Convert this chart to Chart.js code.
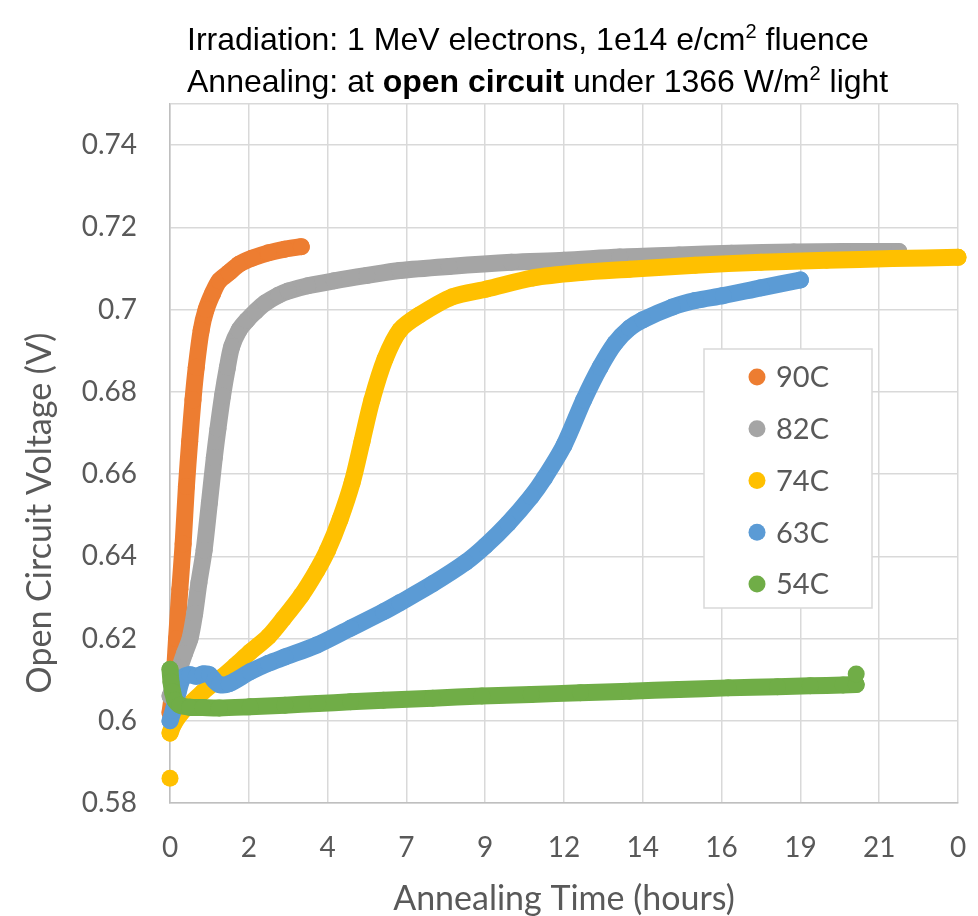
<!DOCTYPE html>
<html>
<head>
<meta charset="utf-8">
<script src="https://cdn.jsdelivr.net/npm/chart.js@4.4.1/dist/chart.umd.min.js"></script>
<style>
  html, body { margin: 0; padding: 0; background: #ffffff; }
  #wrap { width: 978px; height: 916px; position: relative; }
</style>
</head>
<body>
<div id="wrap"><canvas id="c" width="978" height="916"></canvas></div>
<script>
// Annealing runs at five temperatures: time in hours, Voc in volts.
// A null value breaks the trace so a stray reading stands alone as a dot.
const seriesLabels = ['90C', '82C', '74C', '63C', '54C'];
const seriesColors = ['#ED7D31', '#A5A5A5', '#FFC000', '#5B9BD5', '#70AD47'];

const t90 = [0, 0.05, 0.12, 0.2, 0.3, 0.4, 0.5, 0.6, 0.7, 0.8, 0.95, 1.1, 1.3, 1.5, 1.8, 2.1, 2.5, 3.0, 3.5, 4.0];
const v90 = [0.602, 0.605, 0.61, 0.62, 0.632, 0.643, 0.657, 0.668, 0.678, 0.686, 0.695, 0.700, 0.704, 0.707, 0.709, 0.711, 0.7125, 0.7138, 0.7147, 0.7153];

const t82 = [0, 0.15, 0.3, 0.45, 0.61, 0.75, 0.88, 1.04, 1.2, 1.35, 1.46, 1.6, 1.75, 1.88, 2.1, 2.34, 2.6, 2.9, 3.3, 3.6, 4.2, 5.0, 6.0, 7.0, 8.5, 10.4, 12.0, 13.7, 15.5, 17.1, 19.0, 20.5, 22.2];
const v82 = [0.606, 0.609, 0.613, 0.6165, 0.620, 0.626, 0.6335, 0.6415, 0.653, 0.664, 0.671, 0.679, 0.686, 0.691, 0.695, 0.6974, 0.6995, 0.7016, 0.7035, 0.7045, 0.7058, 0.707, 0.7083, 0.7095, 0.7105, 0.7115, 0.712, 0.7128, 0.7133, 0.7137, 0.714, 0.7141, 0.7141];

const t74 = [0, 0, 0, 0.1, 0.3, 0.6, 1.0, 1.3, 1.58, 2.0, 2.44, 3.0, 3.45, 4.0, 4.47, 4.8, 5.18, 5.55, 5.85, 6.15, 6.55, 7.0, 7.6, 8.6, 9.65, 11.06, 12.5, 14.0, 16.0, 18.0, 20.0, 22.0, 24.0];
const v74 = [0.586, null, 0.597, 0.599, 0.6015, 0.604, 0.607, 0.609, 0.6106, 0.6135, 0.6167, 0.6205, 0.6248, 0.6305, 0.6365, 0.6415, 0.649, 0.658, 0.668, 0.678, 0.688, 0.695, 0.6987, 0.7031, 0.705, 0.7077, 0.709, 0.7098, 0.7108, 0.7115, 0.712, 0.7124, 0.7127];

const t63 = [0, 0.1, 0.25, 0.4, 0.6, 0.8, 1.0, 1.2, 1.35, 1.5, 1.8, 2.44, 3.0, 3.5, 4.47, 5.5, 6.5, 7.0, 8.0, 9.0, 9.6, 10.3, 11.0, 11.4, 12.0, 12.6, 13.1, 13.55, 14.0, 14.4, 15.3, 16.0, 16.85, 18.0, 19.2];
const v63 = [0.600, 0.6025, 0.607, 0.6105, 0.6112, 0.6108, 0.6114, 0.6112, 0.6098, 0.6088, 0.609, 0.6119, 0.614, 0.6155, 0.6184, 0.6225, 0.6265, 0.6287, 0.6333, 0.6385, 0.6425, 0.648, 0.6545, 0.659, 0.667, 0.678, 0.686, 0.6918, 0.6955, 0.6975, 0.7006, 0.7022, 0.7034, 0.7053, 0.7072];

const t54 = [0, 0.03, 0.08, 0.15, 0.3, 0.6, 1.0, 1.5, 2.44, 3.5, 4.5, 5.5, 6.5, 8.0, 9.5, 11.0, 12.5, 14.0, 15.5, 17.0, 18.5, 19.5, 20.5, 20.9, 20.9, 20.9];
const v54 = [0.6125, 0.6095, 0.607, 0.605, 0.6038, 0.6033, 0.6032, 0.6031, 0.6034, 0.6038, 0.6042, 0.6046, 0.605, 0.6055, 0.606, 0.6064, 0.6068, 0.6072, 0.6076, 0.608, 0.6083, 0.6085, 0.6087, 0.6088, null, 0.6114];

const xTickValues = [0, 2.4, 4.8, 7.2, 9.6, 12, 14.4, 16.8, 19.2, 21.6, 24];
const xTickLabels = ['0', '2', '4', '7', '9', '12', '14', '16', '19', '21', '0'];
const yTickValues = [0.58, 0.60, 0.62, 0.64, 0.66, 0.68, 0.70, 0.72, 0.74];
const yTickLabels = ['0.58', '0.6', '0.62', '0.64', '0.66', '0.68', '0.7', '0.72', '0.74'];
const yTop = 0.75;

const seriesT = [t90, t82, t74, t63, t54];
const seriesV = [v90, v82, v74, v63, v54];

const AXIS_GREY = '#595959';
const GRID = '#D9D9D9';
const UI_FONT = 'Lato, "Open Sans", sans-serif';

const datasets = seriesLabels.map((label, i) => ({
  label,
  data: seriesT[i].map((t, k) => ({ x: t, y: seriesV[i][k] })),
  showLine: true,
  spanGaps: false,
  borderColor: seriesColors[i],
  backgroundColor: seriesColors[i],
  borderWidth: 17,
  borderCapStyle: 'round',
  borderJoinStyle: 'round',
  tension: 0.3,
  pointRadius: 8.5,
  pointBorderWidth: 0,
  pointHoverRadius: 8.5,
  clip: false,
  // later temperatures sit on top of earlier ones
  order: seriesLabels.length - i
}));

// Two-line heading with bold and superscript runs
const headingPlugin = {
  id: 'heading',
  afterDraw(chart) {
    const ctx = chart.ctx;
    const size = 32;
    const face = '"Liberation Sans", Arial, sans-serif';
    const lines = [
      [['Irradiation: 1 MeV electrons, 1e14 e/cm', 'n'], ['2', 's'], [' fluence', 'n']],
      [['Annealing: at ', 'n'], ['open circuit', 'b'], [' under 1366 W/m', 'n'], ['2', 's'], [' light', 'n']]
    ];
    const baselines = [50, 92];
    ctx.save();
    ctx.fillStyle = '#000000';
    ctx.textBaseline = 'alphabetic';
    ctx.textAlign = 'left';
    lines.forEach((runs, li) => {
      let x = 187;
      runs.forEach(([txt, kind]) => {
        let y = baselines[li];
        if (kind === 'b') ctx.font = `bold ${size}px ${face}`;
        else if (kind === 's') { ctx.font = `${Math.round(size * 0.62)}px ${face}`; y -= size * 0.36; }
        else ctx.font = `${size}px ${face}`;
        ctx.fillText(txt, x, y);
        x += ctx.measureText(txt).width;
      });
    });
    ctx.restore();
  }
};

// Vertical axis title, centred where the original layout puts it
const yTitlePlugin = {
  id: 'yTitle',
  afterDraw(chart) {
    const ctx = chart.ctx;
    ctx.save();
    ctx.translate(40, 513);
    ctx.rotate(-Math.PI / 2);
    ctx.font = `34px ${UI_FONT}`;
    ctx.fillStyle = AXIS_GREY;
    ctx.textAlign = 'center';
    ctx.textBaseline = 'middle';
    ctx.fillText('Open Circuit Voltage (V)', 0, 0);
    ctx.restore();
  }
};

// Boxed legend inside the plot area
const boxLegendPlugin = {
  id: 'boxLegend',
  afterDatasetsDraw(chart) {
    const ctx = chart.ctx;
    const box = { x: 704, y: 349, w: 168, h: 259 };
    ctx.save();
    ctx.fillStyle = '#ffffff';
    ctx.fillRect(box.x, box.y, box.w, box.h);
    ctx.strokeStyle = GRID;
    ctx.lineWidth = 1.5;
    ctx.strokeRect(box.x, box.y, box.w, box.h);
    ctx.font = `29px ${UI_FONT}`;
    ctx.textBaseline = 'middle';
    ctx.textAlign = 'left';
    chart.data.datasets.forEach((ds, i) => {
      const cy = 377 + i * 51.75;
      ctx.beginPath();
      ctx.fillStyle = ds.backgroundColor;
      ctx.arc(757, cy, 8.5, 0, Math.PI * 2);
      ctx.fill();
      ctx.fillStyle = AXIS_GREY;
      ctx.fillText(ds.label, 776, cy + 1);
    });
    ctx.restore();
  }
};

new Chart(document.getElementById('c'), {
  type: 'scatter',
  data: { datasets },
  options: {
    responsive: false,
    animation: false,
    devicePixelRatio: 1,
    layout: { padding: { left: 0, top: 104, right: 20, bottom: 0 } },
    plugins: {
      legend: { display: false },
      tooltip: { enabled: false },
      title: { display: false }
    },
    scales: {
      x: {
        type: 'linear',
        min: 0,
        max: 24,
        afterBuildTicks: (s) => { s.ticks = xTickValues.map(v => ({ value: v })); },
        afterFit: (s) => { s.height = 113; s.paddingLeft = 0; s.paddingRight = 0; },
        ticks: {
          autoSkip: false,
          maxRotation: 0,
          padding: 28,
          color: AXIS_GREY,
          font: { family: UI_FONT, size: 28 },
          callback: (v, i) => xTickLabels[i]
        },
        grid: { color: GRID, lineWidth: 1.5, drawTicks: false },
        border: { display: true, color: '#BFBFBF', width: 1.5 },
        title: {
          display: true,
          text: 'Annealing Time (hours)',
          color: AXIS_GREY,
          font: { family: UI_FONT, size: 34, lineHeight: 1 },
          padding: { top: 0, bottom: 0 }
        }
      },
      y: {
        type: 'linear',
        min: 0.58,
        max: yTop,
        afterBuildTicks: (s) => { s.ticks = yTickValues.concat([yTop]).map(v => ({ value: v })); },
        afterFit: (s) => { s.width = 170; s.paddingTop = 0; s.paddingBottom = 0; },
        ticks: {
          autoSkip: false,
          padding: 33,
          color: AXIS_GREY,
          font: { family: UI_FONT, size: 28 },
          callback: (v, i) => (i < yTickLabels.length ? yTickLabels[i] : '')
        },
        grid: { color: GRID, lineWidth: 1.5, drawTicks: false },
        border: { display: true, color: '#BFBFBF', width: 1.5 },
        title: { display: false }
      }
    }
  },
  plugins: [headingPlugin, yTitlePlugin, boxLegendPlugin]
});
</script>
</body>
</html>
